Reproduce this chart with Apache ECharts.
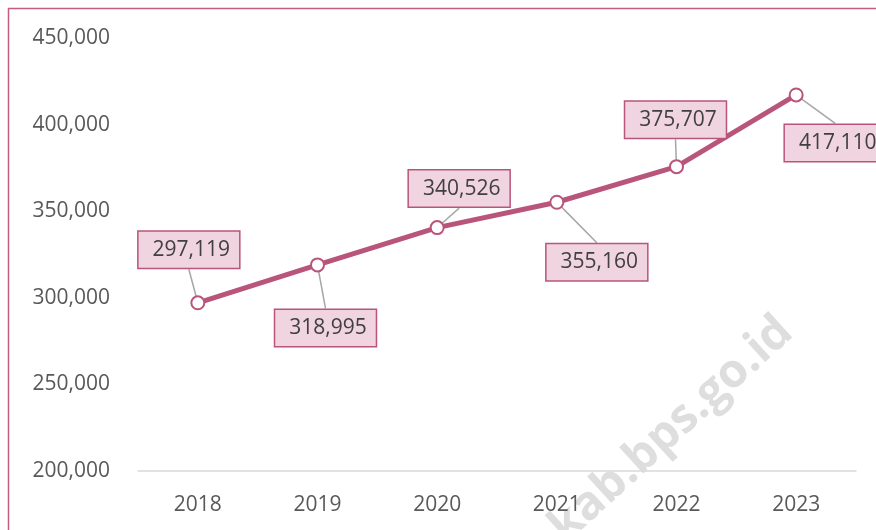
<!DOCTYPE html>
<html>
<head>
<meta charset="utf-8">
<script src="https://cdn.jsdelivr.net/npm/echarts@6/dist/echarts.min.js"></script>
<style>
  html, body { margin: 0; padding: 0; background: #fff; }
  #chart { width: 876px; height: 530px; }
</style>
</head>
<body>
<div id="chart"></div>
<script>
// data
var years = ['2018', '2019', '2020', '2021', '2022', '2023'];
var values = [297119, 318995, 340526, 355160, 375707, 417110];

// label box shift from each point (px)
var labelShift = [[-9, -53], [8, 63], [22, -39], [40, 60], [-1, -47], [39, 48]];

var pink = '#b9557b';
var chart = echarts.init(document.getElementById('chart'));

function fmt(v) {
  return String(v).replace(/\B(?=(\d{3})+(?!\d))/g, ',');
}

var option = {
  animation: false,
  grid: { left: 138, right: 20, top: 38, bottom: 59 },
  xAxis: {
    type: 'category',
    data: years,
    axisLine: { lineStyle: { color: '#d9d9d9', width: 1.5 } },
    axisTick: { show: false },
    axisLabel: { color: '#595959', fontSize: 21, fontFamily: 'Open Sans', margin: 24 }
  },
  yAxis: {
    type: 'value',
    min: 200000,
    max: 450000,
    interval: 50000,
    splitLine: { show: false },
    axisLine: { show: false },
    axisTick: { show: false },
    axisLabel: {
      color: '#595959', fontSize: 21, fontFamily: 'Open Sans', margin: 28,
      formatter: fmt
    }
  },
  series: [{
    type: 'line',
    data: values,
    symbol: 'circle',
    symbolSize: 13,
    itemStyle: { color: '#fff', borderColor: pink, borderWidth: 2 },
    lineStyle: { color: pink, width: 5 },
    z: 3,
    label: {
      show: true,
      position: 'inside',
      formatter: function (p) { return fmt(p.value); },
      color: '#404040',
      fontSize: 21,
      fontFamily: 'Open Sans',
      lineHeight: 28,
      backgroundColor: '#f0d4df',
      borderColor: pink,
      borderWidth: 1.5,
      padding: [4, 9, 4, 14]
    },
    labelLine: { show: true, lineStyle: { color: '#a6a6a6', width: 1.5 } },
    labelLayout: function (p) {
      var s = labelShift[p.dataIndex];
      return { dx: s[0], dy: s[1] };
    }
  }],
  graphic: [
    {
      type: 'rect',
      z: 0,
      shape: { x: 8.5, y: 8.5, width: 900, height: 600 },
      style: { fill: 'none', stroke: '#c45c82', lineWidth: 1.5 }
    },
    {
      type: 'text',
      z: -1,
      x: 786,
      y: 325,
      rotation: 0.74,
      style: {
        text: 'akab.bps.go.id',
        fill: '#dedede',
        font: 'bold 47px "Open Sans"',
        align: 'right',
        verticalAlign: 'middle'
      }
    }
  ]
};

chart.setOption(option);
</script>
</body>
</html>
